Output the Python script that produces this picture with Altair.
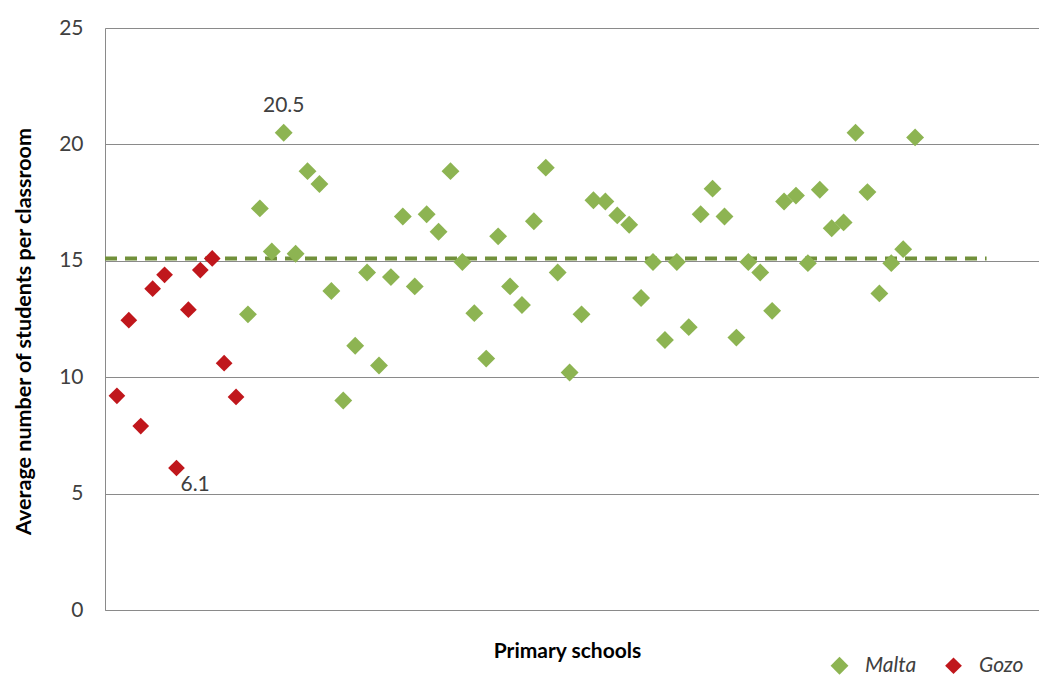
import altair as alt
import pandas as pd

# Average number of students per classroom, per primary school (left to right)
gozo_values = [9.2, 12.45, 7.9, 13.8, 14.4, 6.1, 12.9, 14.6, 15.1, 10.6, 9.15]
malta_values = [12.7, 17.25, 15.4, 20.5, 15.3, 18.85, 18.3, 13.7, 9.0, 11.35,
                14.5, 10.5, 14.3, 16.9, 13.9, 17.0, 16.25, 18.85, 14.95, 12.75,
                10.8, 16.05, 13.9, 13.1, 16.7, 19.0, 14.5, 10.2, 12.7, 17.6,
                17.55, 16.95, 16.55, 13.4, 14.95, 11.6, 14.95, 12.15, 17.0, 18.1,
                16.9, 11.7, 14.95, 14.5, 12.85, 17.55, 17.8, 14.9, 18.05, 16.4,
                16.65, 20.5, 17.95, 13.6, 14.9, 15.5, 20.3]
regions = ["Malta", "Gozo"]
region_colors = ["#8DB452", "#C0171C"]
region_sizes = [320, 280]
average_value = [15.1]
average_span = [0, 74]
annotations = [("20.5", 15, 20.5), ("6.1", 6, 6.1)]
y_ticks = [0, 5, 10, 15, 20, 25]

rows = []
for i, v in enumerate(gozo_values):
    rows.append({"school": i + 1, "value": v, "region": "Gozo"})
for j, v in enumerate(malta_values):
    rows.append({"school": len(gozo_values) + j + 1, "value": v, "region": "Malta"})
df = pd.DataFrame(rows)

avg_df = pd.DataFrame({"x": [average_span[0]], "x2": [average_span[1]], "y": average_value})
ann_df = pd.DataFrame(annotations, columns=["label", "school", "value"])

FONT = "Lato"
TEXT = "#404040"
GRID = "#8A8A8A"

x_scale = alt.Scale(domain=[0, 78.4], nice=False, zero=False)
y_scale = alt.Scale(domain=[0, 25], nice=False)

legend = alt.Legend(title=None, orient="none", direction="horizontal",
                    legendX=724, legendY=627, symbolType="diamond",
                    symbolStrokeWidth=0, symbolOpacity=1,
                    labelFont=FONT, labelFontSize=21, labelFontStyle="italic",
                    labelColor=TEXT, columnPadding=26, labelOffset=15)

points = alt.Chart(df).mark_point(shape="diamond", filled=True, opacity=1).encode(
    x=alt.X("school:Q", scale=x_scale,
            axis=alt.Axis(labels=False, ticks=False, grid=False, domainColor=GRID,
                          title="Primary schools", titleFont=FONT, titleFontSize=21,
                          titleFontWeight="bold", titleColor="#000000",
                          titleX=462, titleY=41, titleBaseline="middle", titleAlign="center")),
    y=alt.Y("value:Q", scale=y_scale,
            axis=alt.Axis(values=y_ticks, grid=True, gridColor=GRID, domainColor=GRID,
                          ticks=False, labelFont=FONT, labelFontSize=21, labelColor=TEXT,
                          labelPadding=22,
                          title="Average number of students per classroom",
                          titleFont=FONT, titleFontSize=21.5, titleFontWeight="bold",
                          titleColor="#000000", titleX=-81, titleY=303, titleAngle=270,
                          titleBaseline="middle", titleAlign="center")),
    color=alt.Color("region:N", scale=alt.Scale(domain=regions, range=region_colors),
                    legend=legend),
    size=alt.Size("region:N", scale=alt.Scale(domain=regions, range=region_sizes),
                  legend=legend),
)

avg_line = alt.Chart(avg_df).mark_rule(color="#71903A", strokeWidth=4, strokeDash=[12, 8]).encode(
    x=alt.X("x:Q", scale=x_scale), x2="x2:Q", y=alt.Y("y:Q", scale=y_scale)
)

ann_top = alt.Chart(ann_df[ann_df.label == "20.5"]).mark_text(
    font=FONT, fontSize=21, color=TEXT, dy=-27, align="center", baseline="middle"
).encode(x=alt.X("school:Q", scale=x_scale), y=alt.Y("value:Q", scale=y_scale), text="label:N")

ann_low = alt.Chart(ann_df[ann_df.label == "6.1"]).mark_text(
    font=FONT, fontSize=21, color=TEXT, dx=4, dy=17, align="left", baseline="middle"
).encode(x=alt.X("school:Q", scale=x_scale), y=alt.Y("value:Q", scale=y_scale), text="label:N")

chart = alt.layer(avg_line, points, ann_top, ann_low).properties(
    width=934, height=582,
    autosize=alt.AutoSizeParams(type="none"),
    padding={"left": 97, "top": 20, "right": 0, "bottom": 75},
).configure_view(stroke=None).configure(background="white")

chart.save("out.html", embed_options={"renderer": "svg", "actions": False})
